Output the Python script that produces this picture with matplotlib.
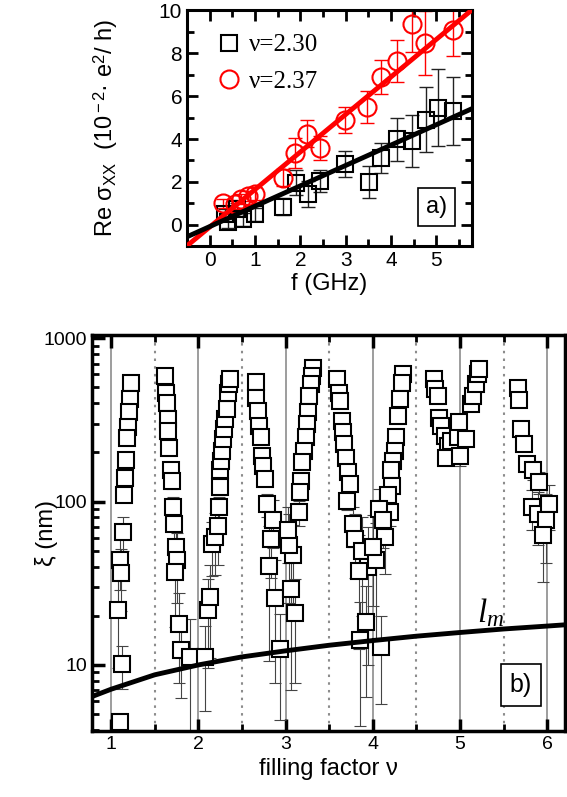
import numpy as np
import matplotlib.pyplot as plt
from matplotlib.ticker import MultipleLocator, LogLocator, NullFormatter, FixedLocator

plt.rcParams['font.family'] = ['Liberation Sans', 'DejaVu Sans']
plt.rcParams['mathtext.fontset'] = 'custom'
plt.rcParams['mathtext.rm'] = 'Liberation Sans'
plt.rcParams['mathtext.it'] = 'Liberation Serif:italic'

# ---- panel a) data: Re sigma_xx vs frequency ----
f_230 = [0.33, 0.40, 0.60, 0.73, 0.99, 1.62, 1.90, 2.16, 2.43, 2.98, 3.51, 3.77, 4.13, 4.46, 4.77, 5.04, 5.36]
s_230 = [0.50, 0.11, 0.73, 0.26, 0.50, 0.84, 1.97, 1.43, 2.05, 2.82, 2.00, 3.10, 3.99, 3.91, 4.91, 5.46, 5.30]
e_230 = [0.25, 0.25, 0.3, 0.3, 0.3, 0.4, 0.6, 0.6, 0.5, 0.6, 0.75, 0.7, 1.0, 1.2, 1.5, 1.8, 1.6]

f_237 = [0.30, 0.55, 0.70, 0.85, 1.00, 1.61, 1.88, 2.14, 2.43, 2.98, 3.47, 3.77, 4.13, 4.46, 4.75, 5.37]
s_237 = [1.00, 0.95, 1.20, 1.35, 1.45, 2.20, 3.36, 4.25, 3.57, 4.88, 5.49, 6.88, 7.63, 9.37, 8.48, 9.07]
e_237 = [0.2, 0.2, 0.25, 0.25, 0.3, 0.4, 0.7, 0.64, 0.56, 0.6, 0.76, 0.8, 0.97, 1.3, 1.5, 1.2]

# linear fits (slope, intercept)
fit_230 = (0.95, -0.08)
fit_237 = (1.75, -0.10)

# ---- panel b) data: localisation length vs filling factor ----
nu_b = [
    # branch near nu=1.1-1.2
    1.225, 1.214, 1.203, 1.191, 1.180, 1.172, 1.164, 1.152, 1.137, 1.103, 1.114, 1.080, 1.122, 1.103,
    # 1.6-1.9
    1.618, 1.629, 1.637, 1.649, 1.656, 1.664, 1.686, 1.694, 1.713, 1.721, 1.740, 1.752, 1.732, 1.781, 1.801, 1.904,
    # 2.0-2.4
    2.076, 2.113, 2.133, 2.152, 2.190, 2.221, 2.236, 2.244, 2.251, 2.259, 2.267, 2.278, 2.293, 2.304, 2.324, 2.335, 2.354, 2.362,
    # 2.6-2.95
    2.656, 2.667, 2.685, 2.697, 2.716, 2.731, 2.743, 2.770, 2.788, 2.857, 2.831, 2.808, 2.876, 2.934,
    # 3.0-3.3
    3.315, 3.303, 3.288, 3.273, 3.257, 3.243, 3.231, 3.212, 3.193, 3.174, 3.166, 3.151, 3.086, 3.037, 3.029, 3.059, 3.113,
    # 3.6-4.1
    3.589, 3.609, 3.620, 3.646, 3.658, 3.669, 3.697, 3.715, 3.735, 3.704, 3.772, 3.800, 3.880, 3.944, 3.841, 3.926, 3.857, 4.089,
    # 4.0-4.35
    4.344, 4.333, 4.307, 4.287, 4.269, 4.249, 4.230, 4.212, 4.223, 4.173, 4.200, 4.143, 4.066, 4.116, 4.040, 4.001,
    # 4.7-5.2
    4.707, 4.718, 4.745, 4.764, 4.787, 4.822, 4.859, 4.841, 4.902,
    5.001, 4.974, 4.993, 5.070, 5.127, 5.145, 5.184, 5.203, 5.222,
    # 5.6-6.05
    5.660, 5.680, 5.699, 5.737, 5.763, 5.832, 5.908, 5.825, 5.889, 6.023, 5.985, 5.946,
]
xi_b = [
    530, 427, 351, 288, 245, 180, 140, 109, 65, 43.6, 36.4, 21.6, 10.1, 4.5,
    586, 464, 403, 319, 271, 214, 155, 134, 92, 73, 53, 44, 37, 17.7, 12.3, 11.2,
    11.2, 21.6, 26, 55, 60.5, 71, 92, 122, 155, 178, 205, 241, 277, 319, 367, 464, 522, 560,
    542, 433, 359, 291, 247, 191, 166, 137, 96, 77, 59, 40.5, 25.7, 12.6,
    653, 587, 522, 443, 351, 298, 247, 205, 174, 134, 114, 86, 47, 54, 67, 29, 20.7,
    560, 464, 413, 312, 265, 225, 186, 151, 128, 101, 73, 59, 50, 40, 37.6, 18.4, 14.2, 12.8,
    601, 534, 423, 334, 247, 205, 178, 155, 125, 109, 86, 61, 90, 77, 44, 53,
    560, 489, 443, 327, 291, 253, 219, 186, 236,
    191, 247, 305, 241, 394, 443, 522, 601, 644,
    498, 417, 277, 225, 170, 155, 131, 92, 84, 97, 77, 62,
]
xi_err = [
    10, 10, 8, 8, 8, 8, 8, 10, 15, 15, 15, 12, 3, 0.5,
    10, 10, 10, 10, 10, 10, 12, 15, 15, 15, 15, 20, 20, 10, 6, 8,
    6, 12, 15, 20, 25, 30, 15, 10, 10, 10, 10, 10, 10, 10, 10, 10, 10, 10,
    10, 10, 10, 10, 10, 10, 10, 12, 15, 25, 25, 30, 18, 8,
    10, 10, 10, 10, 10, 10, 10, 10, 10, 12, 12, 15, 25, 30, 25, 22, 13,
    10, 10, 10, 10, 10, 10, 10, 10, 12, 12, 20, 25, 30, 30, 25, 12, 10, 7,
    10, 10, 10, 10, 10, 10, 10, 10, 12, 12, 15, 25, 30, 25, 30, 30,
    10, 10, 10, 10, 10, 10, 12, 12, 12,
    25, 20, 15, 20, 10, 10, 10, 10, 10,
    10, 10, 10, 10, 15, 20, 20, 25, 30, 30, 35, 30,
]

# magnetic length curve l_m
nu_lm = [0.78, 1.0, 1.5, 2.0, 2.5, 3.0, 3.5, 4.0, 4.5, 5.0, 5.5, 6.0, 6.2]
lm = [6.4, 7.1, 8.7, 10.0, 11.2, 12.2, 13.2, 14.1, 15.0, 15.8, 16.6, 17.3, 17.6]

fig = plt.figure(figsize=(5.67, 7.97), dpi=100)

# ----------------- panel a -----------------
axa = fig.add_axes([0.330, 0.691, 0.502, 0.296])
axa.errorbar(f_230, s_230, yerr=e_230, fmt='none', ecolor='#222222', elinewidth=1, capsize=5, capthick=1)
axa.errorbar(f_237, s_237, yerr=e_237, fmt='none', ecolor='red', elinewidth=1, capsize=5, capthick=1)
h1, = axa.plot(f_230, s_230, 's', ms=12, mfc='none', mec='k', mew=1.5, label='ν=2.30')
h2, = axa.plot(f_237, s_237, 'o', ms=13, mfc='none', mec='red', mew=1.5, label='ν=2.37')
xa = np.array([-0.5, 5.8])
axa.plot(xa, fit_237[0] * xa + fit_237[1], color='red', lw=3.5, zorder=5)
axa.plot(xa, fit_230[0] * xa + fit_230[1], color='k', lw=3.5, zorder=5)
axa.set_xlim(-0.5, 5.78)
axa.set_ylim(-1, 10)
axa.xaxis.set_major_locator(MultipleLocator(1))
axa.xaxis.set_minor_locator(MultipleLocator(0.5))
axa.yaxis.set_major_locator(MultipleLocator(2))
axa.yaxis.set_minor_locator(MultipleLocator(1))
axa.tick_params(which='both', direction='in', top=True, right=True, labelsize=15, width=2)
axa.tick_params(which='major', length=8)
axa.tick_params(which='minor', length=5)
for s in axa.spines.values():
    s.set_linewidth(2.2)
axa.set_xlabel('f (GHz)', fontsize=17, labelpad=2)
axa.set_ylabel(r'Re σ$_{\rm XX}$  (10$^{\rm -2}$· e$^{\rm 2}$/ h)', fontsize=17)
axa.yaxis.set_label_coords(-0.235, 0.5)
axa.legend(handles=[h1, h2], loc='upper left', bbox_to_anchor=(0.05, 0.975), frameon=False,
           handlelength=0.8, handletextpad=0.4, borderaxespad=0.3, labelspacing=0.55,
           prop={'family': 'Liberation Serif', 'size': 18})
axa.text(0.876, 0.167, 'a)', transform=axa.transAxes, fontsize=17, ha='center', va='center',
         bbox=dict(boxstyle='square,pad=0.35', fc='white', ec='k', lw=1.2))

# ----------------- panel b -----------------
axb = fig.add_axes([0.162, 0.083, 0.834, 0.497])
for v in [1, 2, 3, 4, 5, 6]:
    axb.axvline(v, color='#8c8c8c', lw=1.2, zorder=0)
for v in [1.5, 2.5, 3.5, 4.5, 5.5]:
    axb.axvline(v, color='#8c8c8c', lw=1.5, ls=(0, (1.2, 2.5)), zorder=0)
axb.errorbar(nu_b, xi_b, yerr=xi_err, fmt='none', ecolor='#444444', elinewidth=0.8, capsize=4, capthick=0.8, zorder=2)
axb.plot(nu_b, xi_b, 's', ms=11, mfc='white', mec='k', mew=1.5, zorder=3)
axb.plot(nu_lm, lm, color='k', lw=3.5, zorder=4)
axb.set_yscale('log')
axb.set_xlim(0.78, 6.2)
axb.set_ylim(3.95, 1050)
axb.xaxis.set_major_locator(MultipleLocator(1))
axb.xaxis.set_minor_locator(MultipleLocator(0.5))
axb.yaxis.set_major_locator(FixedLocator([10, 100, 1000]))
axb.yaxis.set_minor_locator(LogLocator(base=10, subs=np.arange(2, 10)))
axb.yaxis.set_minor_formatter(NullFormatter())
axb.set_yticklabels(['10', '100', '1000'])
axb.tick_params(which='both', direction='in', top=True, right=False, labelsize=14, width=2.5)
axb.tick_params(which='major', length=9)
axb.tick_params(which='minor', length=5, width=2)
for s in axb.spines.values():
    s.set_linewidth(2.5)
axb.set_xlabel('filling factor ν', fontsize=17, labelpad=4)
axb.set_ylabel('ξ (nm)', fontsize=17)
axb.yaxis.set_label_coords(-0.072, 0.5)
axb.text(5.35, 21, r'$l_m$', fontsize=24, ha='center', va='center')
axb.text(0.907, 0.116, 'b)', transform=axb.transAxes, fontsize=18, ha='center', va='center',
         bbox=dict(boxstyle='square,pad=0.35', fc='white', ec='k', lw=1.2))

fig.savefig('out.png', dpi=100)
